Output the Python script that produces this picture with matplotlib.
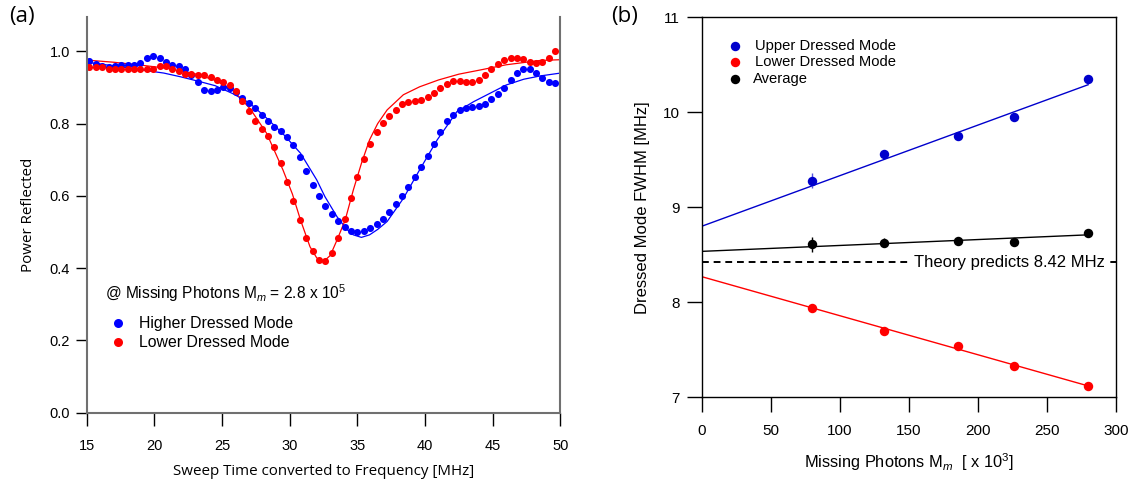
import matplotlib
matplotlib.use("Agg")
import matplotlib.pyplot as plt

plt.rcParams['font.family'] = ['Liberation Sans', 'DejaVu Sans']
plt.rcParams['mathtext.fontset'] = 'custom'
plt.rcParams['mathtext.rm'] = 'Liberation Sans'
plt.rcParams['mathtext.it'] = 'Liberation Sans:italic'

# ---- panel (a): reflected power vs swept frequency ----
freq = [15.19, 15.66, 16.13, 16.61, 17.08, 17.55, 18.02, 18.49, 18.96, 19.44,
        19.91, 20.38, 20.85, 21.32, 21.79, 22.27, 22.74, 23.21, 23.68, 24.15,
        24.62, 25.10, 25.57, 26.04, 26.51, 26.98, 27.45, 27.93, 28.40, 28.87,
        29.34, 29.81, 30.28, 30.76, 31.23, 31.70, 32.17, 32.64, 33.11, 33.59,
        34.06, 34.53, 35.00, 35.47, 35.94, 36.42, 36.89, 37.36, 37.83, 38.30,
        38.77, 39.25, 39.72, 40.19, 40.66, 41.13, 41.60, 42.08, 42.55, 43.02,
        43.49, 43.96, 44.43, 44.91, 45.38, 45.85, 46.32, 46.79, 47.26, 47.74,
        48.21, 48.68, 49.15, 49.62]

higher_mode = [0.974, 0.966, 0.960, 0.957, 0.960, 0.961, 0.961, 0.961, 0.969, 0.981,
               0.987, 0.982, 0.970, 0.963, 0.959, 0.952, 0.936, 0.914, 0.894, 0.889,
               0.893, 0.901, 0.900, 0.887, 0.872, 0.858, 0.843, 0.825, 0.807, 0.791,
               0.780, 0.763, 0.740, 0.708, 0.670, 0.631, 0.599, 0.573, 0.549, 0.529,
               0.513, 0.504, 0.501, 0.503, 0.510, 0.521, 0.536, 0.555, 0.577, 0.600,
               0.625, 0.652, 0.679, 0.711, 0.743, 0.778, 0.806, 0.824, 0.837, 0.843,
               0.846, 0.849, 0.855, 0.867, 0.881, 0.898, 0.920, 0.940, 0.951, 0.951,
               0.941, 0.927, 0.916, 0.913]

lower_mode = [0.957, 0.957, 0.956, 0.952, 0.950, 0.951, 0.952, 0.952, 0.952, 0.951,
              0.952, 0.959, 0.959, 0.952, 0.945, 0.938, 0.937, 0.936, 0.934, 0.929,
              0.921, 0.914, 0.906, 0.889, 0.863, 0.835, 0.807, 0.786, 0.765, 0.735,
              0.690, 0.639, 0.585, 0.532, 0.484, 0.447, 0.422, 0.420, 0.441, 0.482,
              0.536, 0.594, 0.652, 0.701, 0.743, 0.778, 0.803, 0.821, 0.839, 0.854,
              0.860, 0.863, 0.865, 0.873, 0.884, 0.898, 0.911, 0.917, 0.917, 0.915,
              0.916, 0.922, 0.936, 0.952, 0.965, 0.975, 0.982, 0.983, 0.979, 0.972,
              0.969, 0.971, 0.983, 1.002]

# fitted curves
higher_fit_x = [15, 17, 19.4, 20.7, 21.9, 23.4, 24.5, 25.8, 27.0, 28.3, 29.5, 30.8,
                32.0, 32.6, 33.5, 34.2, 34.7, 35.3, 35.9, 36.5, 37.2, 38.4, 39.6,
                40.9, 42.35, 43.6, 44.8, 46.0, 47.3, 48.5, 50]
higher_fit_y = [0.970, 0.960, 0.947, 0.940, 0.930, 0.916, 0.905, 0.883, 0.858, 0.815,
                0.772, 0.718, 0.644, 0.598, 0.542, 0.508, 0.492, 0.485, 0.492, 0.507,
                0.529, 0.593, 0.672, 0.755, 0.833, 0.861, 0.884, 0.907, 0.923, 0.932,
                0.940]

lower_fit_x = [15, 17, 19, 21, 23, 24.5, 25.8, 27.1, 28.3, 29.5, 30.2, 30.8, 31.5,
               32.0, 32.5, 33.0, 33.5, 34.1, 34.7, 35.3, 35.9, 36.5, 37.2, 38.4,
               39.6, 41.0, 42.5, 44, 46, 48.5, 50]
lower_fit_y = [0.976, 0.970, 0.962, 0.953, 0.938, 0.920, 0.893, 0.840, 0.773, 0.672,
               0.605, 0.533, 0.459, 0.428, 0.418, 0.435, 0.478, 0.533, 0.616, 0.690,
               0.755, 0.800, 0.838, 0.880, 0.902, 0.921, 0.937, 0.948, 0.963, 0.975,
               0.977]

# ---- panel (b): FWHM vs missing photons ----
photons = [80, 132, 186, 226, 280]
upper_fwhm = [9.28, 9.56, 9.75, 9.95, 10.35]
upper_err = [0.08, 0.04, 0.03, 0.03, 0.03]
lower_fwhm = [7.94, 7.70, 7.545, 7.334, 7.12]
lower_err = [0.02, 0.02, 0.02, 0.02, 0.02]
avg_fwhm = [8.61, 8.628, 8.645, 8.638, 8.733]
avg_err = [0.08, 0.05, 0.03, 0.02, 0.03]

fit_x = [0, 280]
upper_fit = [8.80, 10.29]
lower_fit = [8.27, 7.12]
avg_fit = [8.536, 8.71]
theory = 8.42

BLUE = '#0000ff'
RED = '#ff0000'
DBLUE = '#0000cc'

fig = plt.figure(figsize=(11.35, 4.8), dpi=100)

# ----- (a) -----
ax1 = fig.add_axes([0.0764, 0.1406, 0.4173, 0.823])
ax1.plot(higher_fit_x, higher_fit_y, color=BLUE, lw=0.9)
ax1.plot(lower_fit_x, lower_fit_y, color=RED, lw=0.9)
ax1.plot(freq, higher_mode, 'o', color=BLUE, ms=5.1, mew=0)
ax1.plot(freq, lower_mode, 'o', color=RED, ms=5.1, mew=0)
ax1.set_xlim(15, 50)
ax1.set_ylim(0, 1.094)
ax1.set_xticks(range(15, 51, 5))
ax1.set_yticks([0.0, 0.2, 0.4, 0.6, 0.8, 1.0])
ax1.set_yticklabels(['0.0', '0.2', '0.4', '0.6', '0.8', '1.0'])
ax1.spines['top'].set_visible(False)
for s in ['left', 'bottom', 'right']:
    ax1.spines[s].set_color('#707070')
    ax1.spines[s].set_linewidth(1.5)
ax1.tick_params(axis='x', direction='out', length=9, width=1, pad=10, labelsize=10.5)
ax1.tick_params(axis='y', direction='out', length=8, width=1, pad=4, labelsize=10.5)
ax1.set_xlabel('Sweep Time converted to Frequency [MHz]', family='Open Sans',
               fontsize=10.9, labelpad=8)
ax1.set_ylabel('Power Reflected', family='Open Sans', fontsize=10.9, labelpad=10)

ax1.text(16.35, 0.33, '@ Missing Photons M$_m$ = 2.8 x 10$^5$', fontsize=11.2,
         va='center', ha='left')
ax1.plot([17.3], [0.247], 'o', color=BLUE, ms=6.5, mew=0)
ax1.plot([17.3], [0.195], 'o', color=RED, ms=6.5, mew=0)
ax1.text(18.9, 0.247, 'Higher Dressed Mode', fontsize=11.4, va='center')
ax1.text(18.9, 0.195, 'Lower Dressed Mode', fontsize=11.4, va='center')

# ----- (b) -----
ax2 = fig.add_axes([0.6182, 0.1723, 0.3648, 0.7917])
ax2.plot(fit_x, upper_fit, color=DBLUE, lw=1)
ax2.plot(fit_x, lower_fit, color=RED, lw=1)
ax2.plot(fit_x, avg_fit, color='black', lw=1)
ax2.errorbar(photons, upper_fwhm, yerr=upper_err, fmt='o', color=DBLUE, ms=6.8,
             mew=0, capsize=3, elinewidth=1, ecolor='#5555dd')
ax2.errorbar(photons, lower_fwhm, yerr=lower_err, fmt='o', color=RED, ms=6.8,
             mew=0, capsize=3, elinewidth=1)
ax2.errorbar(photons, avg_fwhm, yerr=avg_err, fmt='o', color='black', ms=6.8,
             mew=0, capsize=3, elinewidth=1)
ax2.axhline(theory, color='black', lw=1.4, ls=(0, (3.5, 2.5)))
ax2.text(222.7, theory, 'Theory predicts 8.42 MHz', fontsize=12, ha='center',
         va='center', bbox=dict(facecolor='white', edgecolor='none', pad=1))
ax2.set_xlim(0, 300)
ax2.set_ylim(7, 11)
ax2.set_xticks(range(0, 301, 50))
ax2.set_yticks([7, 8, 9, 10, 11])
for s in ax2.spines.values():
    s.set_linewidth(1)
ax2.tick_params(axis='x', direction='out', length=11, width=1, pad=8, labelsize=11)
ax2.tick_params(axis='y', direction='out', length=11, width=1, pad=5, labelsize=11)
ax2.set_xlabel('Missing Photons M$_m$  [ x 10$^3$]', fontsize=11.8, labelpad=10)
ax2.set_ylabel('Dressed Mode FWHM [MHz]', fontsize=12, labelpad=9)

ax2.plot([24], [10.7], 'o', color=DBLUE, ms=6.8, mew=0)
ax2.plot([24], [10.525], 'o', color=RED, ms=6.8, mew=0)
ax2.plot([24], [10.35], 'o', color='black', ms=6.8, mew=0)
ax2.text(38.5, 10.7, 'Upper Dressed Mode', fontsize=10.6, va='center')
ax2.text(38.5, 10.525, 'Lower Dressed Mode', fontsize=10.6, va='center')
ax2.text(37.5, 10.35, 'Average', fontsize=10.6, va='center')

fig.text(0.008, 0.965, '(a)', family='Open Sans', fontsize=16, va='center')
fig.text(0.538, 0.965, '(b)', family='Open Sans', fontsize=16, va='center')

fig.savefig('out.png', dpi=100)
